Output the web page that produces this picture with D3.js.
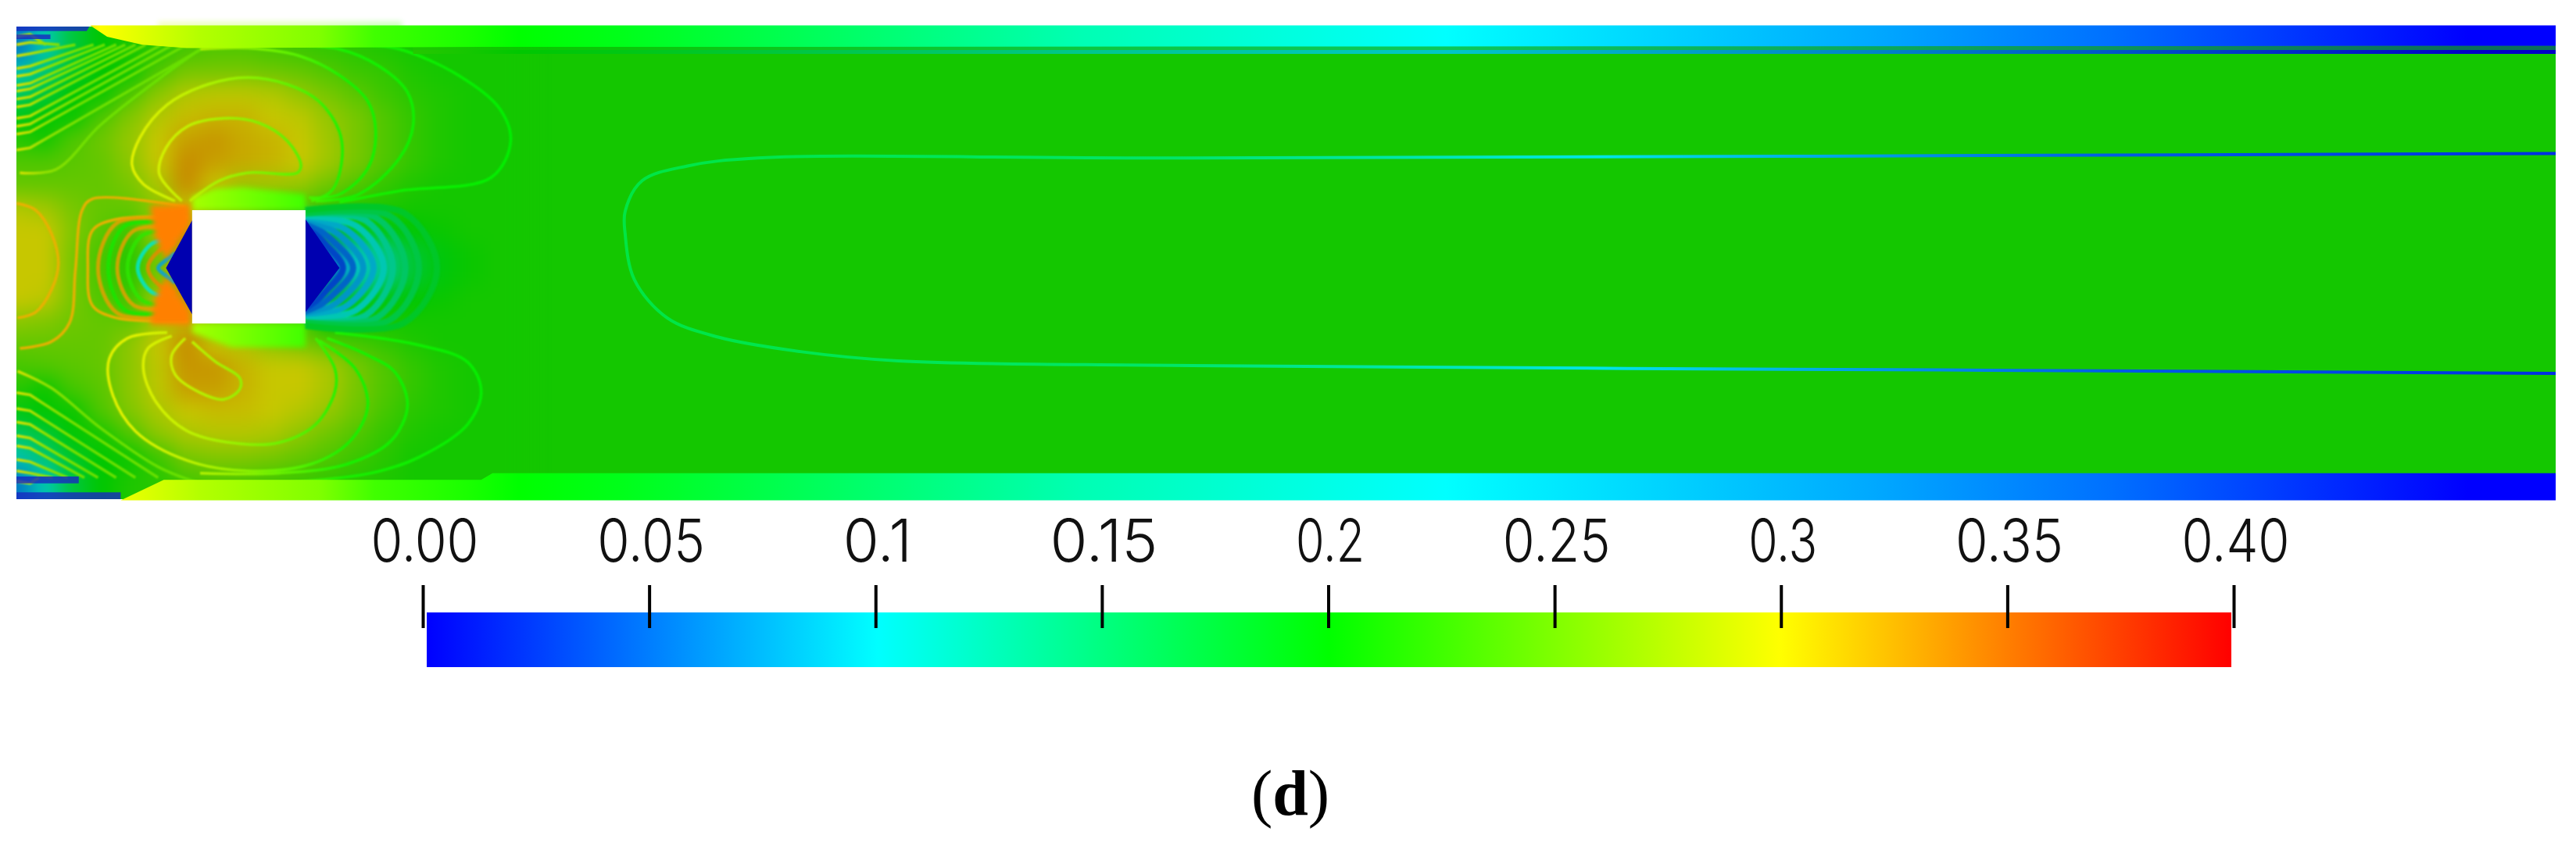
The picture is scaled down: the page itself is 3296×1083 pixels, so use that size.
<!DOCTYPE html>
<html>
<head>
<meta charset="utf-8">
<script src="https://cdn.jsdelivr.net/npm/d3@7"></script>
<style>
  html, body { margin: 0; padding: 0; background: #fff; }
  svg { display: block; }
  .tick-label { font-family: Inter, "Liberation Sans", sans-serif; font-weight: 300; font-size: 76px; fill: #111; }
  .caption { font-family: "Liberation Serif", serif; font-size: 82px; fill: #000; }
</style>
</head>
<body>
<svg id="chart" width="3296" height="1083"></svg>
<script>
// colour map, value -> colour
const mapValues = [0, 0.1, 0.2, 0.3, 0.4];
const mapColors = ["#0000ff", "#00ffff", "#00ff00", "#ffff00", "#ff0000"];
const tickValues = [0, 0.05, 0.1, 0.15, 0.2, 0.25, 0.3, 0.35, 0.4];
const tickLabels = ["0.00", "0.05", "0.1", "0.15", "0.2", "0.25", "0.3", "0.35", "0.40"];

// channel coordinates: obstacle width = 100 units
const fieldBase = 0.21;
const fieldX = [0, 25, 50, 75, 100, 125, 150, 175, 200, 225, 250, 275, 300, 325, 350, 375, 400, 425, 450];
const fieldY = [20, 40, 60, 80, 100, 120, 140, 160, 180, 200, 220, 240, 260, 280, 300, 320, 340, 360, 380, 400];
const fieldValues = [
  [.06, .11, .17, .20, .215, .22, .235, .24, .24, .235, .23, .225, .22, .215, .21, .21, .21, .21, .21],
  [.11, .14, .18, .20, .205, .24, .26, .26, .26, .255, .25, .24, .23, .225, .215, .21, .21, .21, .21],
  [.15, .17, .20, .205, .24, .27, .29, .295, .295, .29, .275, .26, .245, .23, .22, .215, .21, .21, .21],
  [.19, .20, .205, .24, .265, .29, .305, .31, .31, .30, .295, .275, .26, .24, .225, .215, .21, .21, .21],
  [.22, .21, .24, .255, .275, .30, .32, .325, .315, .31, .30, .28, .26, .24, .225, .215, .21, .21, .21],
  [.24, .24, .245, .25, .27, .30, .33, .32, .315, .31, .30, .28, .26, .24, .225, .215, .21, .21, .21],
  [.25, .25, .25, .25, .26, .285, .33, .30, .28, .28, .275, .255, .24, .225, .215, .21, .21, .21, .21],
  [.29, .28, .26, .25, .25, .27, .30, .26, .26, .25, .24, .225, .22, .215, .21, .21, .21, .21, .21],
  [.30, .30, .265, .245, .23, .28, .33, .30, .30, .20, .10, .18, .19, .195, .20, .205, .21, .21, .21],
  [.30, .30, .26, .235, .22, .26, .33, .10, .10, .10, .05, .05, .10, .13, .175, .195, .205, .21, .21],
  [.30, .30, .26, .235, .22, .26, .33, .10, .10, .10, .05, .05, .10, .13, .175, .195, .205, .21, .21],
  [.30, .295, .26, .24, .23, .28, .33, .30, .30, .20, .10, .17, .185, .195, .20, .205, .21, .21, .21],
  [.27, .265, .255, .25, .25, .28, .31, .26, .26, .25, .24, .20, .205, .21, .21, .21, .21, .21, .21],
  [.25, .25, .25, .25, .27, .30, .33, .30, .29, .27, .26, .245, .235, .225, .215, .21, .21, .21, .21],
  [.235, .24, .245, .25, .27, .295, .325, .325, .31, .30, .30, .285, .26, .24, .225, .215, .21, .21, .21],
  [.22, .205, .235, .245, .27, .295, .32, .32, .31, .30, .30, .285, .26, .24, .225, .215, .21, .21, .21],
  [.19, .20, .205, .24, .265, .285, .30, .305, .305, .30, .29, .275, .255, .235, .22, .215, .21, .21, .21],
  [.15, .17, .20, .21, .24, .27, .285, .29, .29, .285, .27, .255, .24, .225, .215, .21, .21, .21, .21],
  [.11, .14, .18, .20, .205, .23, .26, .265, .265, .26, .25, .24, .23, .22, .21, .21, .21, .21, .21],
  [.06, .11, .17, .20, .215, .22, .235, .24, .24, .235, .23, .225, .22, .215, .21, .21, .21, .21, .21]
];

// value along the wall bands
const wallX = [65, 74, 162, 267, 316, 400, 443, 535, 937, 1261, 1641, 1848, 2162, 2240];
const wallValues = [.31, .30, .27, .25, .225, .21, .20, .19, .13, .10, .066, .044, 0, 0];
// value along the long wake contour
const wakeX = [530, 1020, 1400, 1848, 2240];
const wakeValues = [.17, .155, .10, .04, .02];

const topBand = [[65, -1], [2240, -1], [2240, 17], [410, 18], [150, 19], [111, 16], [80, 9]];
const topBump = [[125, -4], [340, -4], [340, 1], [125, 1]];
const bottomBand = [[92, 418], [2240, 418], [2240, 394], [420, 394], [410, 400], [130, 400]];
const topCorners = [[[0, -1], [65, -1], [62, 4], [0, 4]], [[0, 7], [30, 7], [30, 11], [0, 11]]];
const bottomCorners = [[[0, 411], [92, 411], [92, 418], [0, 418]], [[0, 397], [55, 397], [55, 403], [0, 403]]];
const obstacle = [155, 162, 255, 262];
const padTop = [[155, 162], [255, 162], [255, 148], [200, 142], [175, 143], [155, 150]];
const padBottom = [[155, 262], [255, 262], [255, 283], [190, 283], [155, 270]];
const orangeTop = [[118, 158], [153, 157], [153, 174], [132, 205], [122, 185]];
const orangeBottom = [[118, 263], [153, 263], [153, 252], [132, 221], [122, 240]];
const tealTop = [[255, 162], [300, 163], [290, 172], [268, 185], [258, 175]];
const tealBottom = [[255, 262], [300, 261], [290, 252], [268, 240], [258, 250]];
const wedgeFront = [[155, 171], [132, 213], [155, 254]];
const wedgeRear = [[255, 170], [285, 213], [255, 252]];

// contour lines
const upper1 = [[146, 154], [126, 130], [132, 107], [151, 88], [183, 81], [214, 85], [239, 101], [251, 122], [248, 129], [204, 129], [179, 136], [153, 154]];
const upper2 = [[140, 154], [112, 139], [102, 122], [109, 98], [133, 69], [169, 51], [204, 45], [239, 51], [267, 66], [285, 93], [287, 119], [278, 145], [260, 154]];
const upper3 = [[258, 151], [285, 148], [310, 125], [317, 93], [310, 66], [285, 43], [250, 26], [204, 19], [162, 20]];
const upper4 = [[264, 154], [302, 148], [338, 116], [350, 87], [345, 58], [320, 35], [285, 20], [232, 16]];
const upper5 = [[285, 155], [338, 145], [419, 133], [436, 101], [426, 72], [390, 43], [338, 20], [302, 16]];
const upperLeft = [[3, 129], [35, 126], [74, 87], [126, 46], [162, 20]];
const lower1 = [[149, 275], [137, 290], [140, 307], [162, 323], [183, 329], [197, 320], [197, 310], [176, 296], [155, 278]];
const lower2 = [[137, 273], [116, 284], [112, 302], [123, 331], [151, 357], [197, 368], [232, 367], [264, 351], [281, 322], [281, 302], [264, 275]];
const lower3 = [[133, 270], [98, 275], [82, 293], [84, 322], [105, 357], [151, 383], [204, 392], [260, 386], [295, 365], [310, 334], [299, 302], [267, 277]];
const lower4 = [[274, 275], [310, 290], [334, 305], [345, 334], [331, 365], [292, 386], [232, 394], [162, 394]];
const lower5 = [[281, 270], [355, 281], [398, 296], [410, 322], [398, 351], [355, 380], [313, 394], [232, 403]];
const lowerLeft = [[1, 304], [31, 319], [74, 354], [126, 389], [162, 403]];
const frontOuter = [[149, 159], [67, 152], [58, 162], [52, 215], [47, 261], [31, 278], [3, 284]];
const frontSecond = [[151, 168], [88, 170], [67, 180], [63, 213], [67, 246], [88, 257], [151, 260]];
const inletLobe = [[0, 156], [17, 162], [31, 183], [37, 209], [31, 232], [17, 252], [1, 257]];
const wakeLine = [[2242, 112], [1020, 116], [654, 116], [592, 123], [552, 136], [537, 163], [537, 183], [545, 223], [574, 257], [619, 274], [693, 287], [778, 295], [1020, 299], [1697, 303], [2242, 306]];

// arcs in front of and behind the obstacle
const arcCentre = 213;
const frontEndX = 140;
const frontTipX = [72, 81, 89, 98, 107, 116, 125];
const frontHalf = [42, 39, 36, 33, 27, 22, 13];
const frontRound = [1, 1, .9, .8, .6, .4, .1];
const frontArcValues = [.33, .21, .33, .22, .11, .34, .07];
const rearTipX = [288, 297, 306, 315, 324, 332, 343, 355, 371];
const rearHalf = [39, 42, 44, 45, 46, 48, 48, 48, 51];
const rearRound = [.1, .2, .35, .5, .65, .8, .9, 1, 1];
const rearArcValues = [.035, .05, .075, .085, .11, .13, .15, .165, .18];

// dense lines at the inlet corners
const inletTopY = [109, 95, 88, 81, 71, 64, 57, 52, 44, 37, 26, 16, 9];
const inletTopEndX = [170, 150, 138, 128, 114, 105, 96, 88, 78, 68, 52, 38, 26];
const inletBottomY = [323, 337, 349, 361, 370, 382, 392, 401];
const inletBottomEndX = [125, 105, 88, 72, 60, 45, 32, 20];

// lobe contours go from yellow on the left to green on the right
const lobeStopX = [100, 150, 200, 250, 290, 440];
const lobeStopValues = [.295, .28, .26, .235, .21, .20];
const inletStopX = [0, 25, 60, 170];
const inletStopValues = [.30, .265, .25, .245];

const shade = 0.78;
const svg = d3.select("#chart");
const defs = svg.append("defs");

const x = d3.scaleLinear().domain([0, 2240]).range([21, 3270]);
const y = d3.scaleLinear().domain([0, 417]).range([34, 639]);
const color = d3.scaleLinear().domain(mapValues).range(mapColors);

function dark(v, k = shade) {
    let c = d3.rgb(color(v));
    return d3.rgb(c.r * k, c.g * k, c.b * k).formatHex();
}

function gradient(id, xs, vals, k) {
    let g = defs.append("linearGradient").attr("id", id)
        .attr("gradientUnits", "userSpaceOnUse")
        .attr("x1", x(xs[0])).attr("x2", x(xs[xs.length - 1]))
        .attr("y1", 0).attr("y2", 0);
    g.selectAll("stop").data(xs).enter().append("stop")
        .attr("offset", d => (x(d) - x(xs[0])) / (x(xs[xs.length - 1]) - x(xs[0])))
        .attr("stop-color", (d, i) => dark(vals[i], k));
}

function blur(id, amount) {
    defs.append("filter").attr("id", id).attr("filterUnits", "userSpaceOnUse")
        .attr("x", 0).attr("y", 0).attr("width", 3296).attr("height", 700)
        .attr("color-interpolation-filters", "sRGB")
        .append("feGaussianBlur").attr("stdDeviation", amount);
}

gradient("wallBright", wallX, wallValues, 1);
gradient("wallDark", wallX, wallValues, shade);
gradient("wakeGrad", wakeX, wakeValues, 0.9);
gradient("lobeGrad", lobeStopX, lobeStopValues, 0.95);
gradient("inletGrad", inletStopX, inletStopValues, 0.88);
gradient("padGrad", [155, 255], [.265, .225], 1);

defs.append("clipPath").attr("id", "channel").append("rect")
    .attr("x", x(0)).attr("y", y(0)).attr("width", x(2240) - x(0)).attr("height", y(417) - y(0));
blur("soft", 13);
blur("softSmall", 3.5);
blur("softLine", 0.9);

const plot = svg.append("g").attr("clip-path", "url(#channel)");

// background value
plot.append("rect")
    .attr("x", x(0)).attr("y", y(0)).attr("width", x(2240) - x(0)).attr("height", y(417) - y(0))
    .attr("fill", dark(fieldBase));

// coarse field cells, softened by the blur
function edge(arr, i, pad) {
    if (i < 0) return arr[0] - pad;
    if (i >= arr.length - 1) return arr[arr.length - 1] + pad;
    return (arr[i] + arr[i + 1]) / 2;
}
let cells = [];
fieldValues.forEach((row, r) => row.forEach((v, c) => cells.push({ r, c, v })));
plot.append("g").attr("filter", "url(#soft)")
    .selectAll("rect").data(cells).enter().append("rect")
    .attr("x", d => x(edge(fieldX, d.c - 1, 80)))
    .attr("y", d => y(edge(fieldY, d.r - 1, 60)))
    .attr("width", d => x(edge(fieldX, d.c, 0)) - x(edge(fieldX, d.c - 1, 80)) + 1)
    .attr("height", d => y(edge(fieldY, d.r, 60)) - y(edge(fieldY, d.r - 1, 60)) + 1)
    .attr("fill", d => dark(d.v));

const line = d3.line().x(d => x(d[0])).y(d => y(d[1]));
const smooth = d3.line().x(d => x(d[0])).y(d => y(d[1])).curve(d3.curveCatmullRom.alpha(0.5));

// patches next to the obstacle
const patches = plot.append("g").attr("filter", "url(#softSmall)");
[[tealTop, color(.155)], [tealBottom, color(.155)], [padTop, "url(#padGrad)"], [padBottom, "url(#padGrad)"]].forEach(p => {
    patches.append("path").attr("d", line(p[0]) + "Z").attr("fill", p[1]);
});

const contours = plot.append("g").attr("filter", "url(#softLine)");

// inlet corner lines
const inletLines = contours.append("g").attr("fill", "none").attr("stroke", "url(#inletGrad)").attr("stroke-width", 3.5);
inletTopY.forEach((v, i) => {
    inletLines.append("path").attr("d", line([[0, v], [12, v - 2], [inletTopEndX[i], 16]]));
});
inletBottomY.forEach((v, i) => {
    inletLines.append("path").attr("d", line([[0, v], [12, v + 2], [inletBottomEndX[i], 398]]));
});

// lobes
contours.append("g").attr("fill", "none").attr("stroke", "url(#lobeGrad)").attr("stroke-width", 3.5)
    .selectAll("path")
    .data([upper1, upper2, upper3, upper4, upper5, lower1, lower2, lower3, lower4, lower5])
    .enter().append("path").attr("d", d => smooth(d));
contours.append("g").attr("fill", "none").attr("stroke", "url(#inletGrad)").attr("stroke-width", 3.5)
    .selectAll("path").data([upperLeft, lowerLeft])
    .enter().append("path").attr("d", d => smooth(d));

// contours ahead of the obstacle
contours.append("g").attr("fill", "none").attr("stroke", dark(.325, 0.92)).attr("stroke-width", 3.5)
    .selectAll("path").data([frontOuter, frontSecond, inletLobe])
    .enter().append("path").attr("d", d => smooth(d));

// arc with a shoulder between its end and its tip, rounder as r goes up
function arcPath(endX, tip, h, r) {
    let t = 0.5 + 0.25 * r;
    let s = 0.5 + 0.45 * r;
    let sx = endX + (tip - endX) * t;
    return smooth([[endX, arcCentre - h], [sx, arcCentre - h * s], [tip, arcCentre], [sx, arcCentre + h * s], [endX, arcCentre + h]]);
}
frontTipX.forEach((tip, i) => {
    contours.append("path").attr("fill", "none").attr("stroke", dark(frontArcValues[i], 0.9))
        .attr("stroke-width", 5).attr("opacity", 0.85)
        .attr("d", arcPath(frontEndX, tip, frontHalf[i], frontRound[i]));
});
rearTipX.forEach((tip, i) => {
    contours.append("path").attr("fill", "none").attr("stroke", dark(rearArcValues[i], shade))
        .attr("stroke-width", 8)
        .attr("d", arcPath(255, tip, rearHalf[i], rearRound[i]));
});

// orange corners sit over the arcs
const orange = plot.append("g").attr("filter", "url(#softSmall)");
[orangeTop, orangeBottom].forEach(p => {
    orange.append("path").attr("d", line(p) + "Z").attr("fill", color(.35));
});

// wedges
plot.selectAll(".wedge").data([wedgeFront, wedgeRear]).enter().append("path")
    .attr("class", "wedge").attr("d", d => line(d) + "Z").attr("fill", "#0000b0");

// wake contour and the lines under the top band
plot.append("path").attr("d", smooth(wakeLine)).attr("fill", "none")
    .attr("stroke", "url(#wakeGrad)").attr("stroke-width", 4);
plot.append("path").attr("d", line([[350, 19], [2240, 19]])).attr("stroke", "url(#wallDark)")
    .attr("stroke-width", 5).attr("opacity", 0.45).attr("fill", "none");
plot.append("path").attr("d", line([[350, 22.4], [2240, 22.4]])).attr("stroke", "url(#wallDark)")
    .attr("stroke-width", 5).attr("fill", "none");

// wall bands
svg.append("path").attr("d", line(topBump) + "Z").attr("fill", "url(#wallBright)")
    .attr("opacity", 0.3).attr("filter", "url(#softSmall)");
svg.append("g").selectAll("path").data([topBand, bottomBand]).enter().append("path")
    .attr("d", d => line(d) + "Z").attr("fill", "url(#wallBright)");
plot.selectAll(".corner").data(topCorners.concat(bottomCorners)).enter().append("path")
    .attr("class", "corner").attr("d", d => line(d) + "Z").attr("fill", "#1828c0").attr("opacity", 0.8);

// obstacle
svg.append("rect")
    .attr("x", x(obstacle[0])).attr("y", y(obstacle[1]))
    .attr("width", x(obstacle[2]) - x(obstacle[0])).attr("height", y(obstacle[3]) - y(obstacle[1]))
    .attr("fill", "#fff");

// colour bar
const barScale = d3.scaleLinear().domain([0, 0.4]).range([541, 2858]);
const barGrad = defs.append("linearGradient").attr("id", "barGrad");
barGrad.selectAll("stop").data(mapValues).enter().append("stop")
    .attr("offset", d => d / 0.4)
    .attr("stop-color", (d, i) => mapColors[i]);
svg.append("rect").attr("x", 546).attr("y", 784).attr("width", 2855 - 546).attr("height", 70)
    .attr("fill", "url(#barGrad)");

const barAxis = d3.axisTop(barScale).tickValues(tickValues).tickSize(55).tickSizeOuter(0)
    .tickFormat((d, i) => tickLabels[i]);
const axisG = svg.append("g").attr("transform", "translate(0,804)").call(barAxis);
axisG.select(".domain").remove();
axisG.selectAll(".tick line").attr("stroke", "#000").attr("stroke-width", 4);
axisG.selectAll(".tick text")
    .attr("class", "tick-label")
    .attr("font-family", null).attr("font-size", null)
    .attr("y", -85).attr("dy", 0).attr("x", 2)
    .attr("textLength", (d, i) => tickLabels[i].length > 3 ? 138 : 88)
    .attr("lengthAdjust", "spacingAndGlyphs");

// caption
const caption = svg.append("text").attr("class", "caption").attr("x", 1651).attr("y", 1043).attr("text-anchor", "middle");
caption.append("tspan").text("(");
caption.append("tspan").attr("font-weight", "bold").text("d");
caption.append("tspan").text(")");
</script>
</body>
</html>
